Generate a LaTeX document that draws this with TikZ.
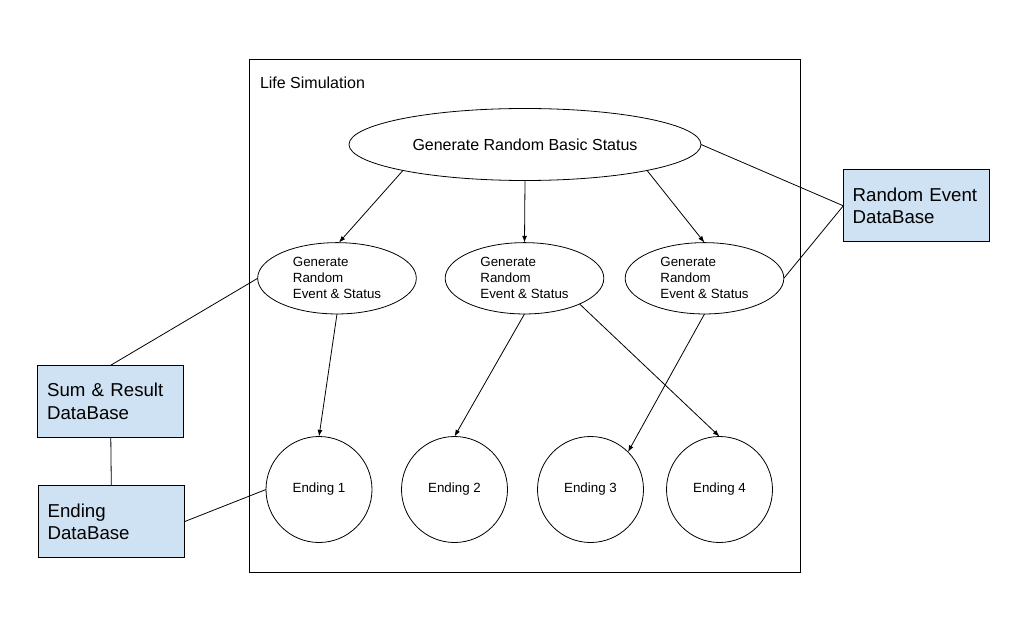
\documentclass[tikz,border=0pt]{standalone}
\usepackage{fontspec}
\setmainfont{Liberation Sans}
\usetikzlibrary{shapes.geometric,arrows.meta}
\definecolor{dbblue}{HTML}{CFE2F3}
\begin{document}
\begin{tikzpicture}[x=0.75pt,y=-0.75pt,
  every node/.style={inner sep=0pt, outer sep=0pt},
  ell/.style={draw, ellipse, line width=0.6pt, align=left, font=\fontsize{10}{12}\selectfont},
  ending/.style={draw, circle, line width=0.6pt, minimum size=79.5pt, font=\fontsize{10}{12}\selectfont},
  db/.style={draw, line width=0.7pt, fill=dbblue, minimum height=54pt, text width=95.5pt, inner xsep=7pt, align=left, font=\fontsize{14}{17}\selectfont},
  con/.style={line width=0.6pt},
  arr/.style={con, -{Latex[length=5pt,width=3.6pt]}}]
\useasboundingbox (0,0) rectangle (1024,634);
% frame
\node[draw, line width=0.7pt, minimum width=413.25pt, minimum height=384.75pt] (frame) at (524.5,315.5) {};
\node[anchor=west, font=\fontsize{12}{14}\selectfont] (title) at (260,83) {Life Simulation};
% ellipses
\node[ell, minimum width=264pt, minimum height=54pt, font=\fontsize{12}{14}\selectfont] (top) at (525,144.5) {Generate Random Basic Status};
\node[ell, minimum width=119pt, minimum height=53.5pt] (m1) at (337,278.3) {Generate\\Random\\Event \& Status};
\node[ell, minimum width=119pt, minimum height=53.5pt] (m2) at (524.5,278.3) {Generate\\Random\\Event \& Status};
\node[ell, minimum width=119pt, minimum height=53.5pt] (m3) at (704.5,278.3) {Generate\\Random\\Event \& Status};
% endings
\node[ending] (e1) at (319,489.5) {Ending 1};
\node[ending] (e2) at (454.5,489.5) {Ending 2};
\node[ending] (e3) at (590.5,489.5) {Ending 3};
\node[ending] (e4) at (719.5,489.5) {Ending 4};
% databases
\node[db] (re) at (916.3,205.8) {Random Event\\DataBase};
\node[db] (sum) at (110.8,401.2) {Sum \& Result\\DataBase};
\node[db] (endb) at (111.3,521.7) {Ending\\DataBase};
% arrows
\draw[arr] (top.192) -- (m1.87);
\draw[arr] (top.270) -- (m2.90);
\draw[arr] (top.348) -- (m3.90);
\draw[arr] (m1.south) -- (e1.north);
\draw[arr] (m2.south) -- (e2.north);
\draw[arr] (m2.335.3) -- (e4.north);
\draw[arr] (m3.south) -- (e3.45);
% plain connectors
\draw[con] (top.east) -- (re.west);
\draw[con] (m3.east) -- (re.west);
\draw[con] (m1.west) -- (sum.north);
\draw[con] (sum.south) -- (endb.north);
\draw[con] (endb.east) -- (e1.west);
\end{tikzpicture}
\end{document}
